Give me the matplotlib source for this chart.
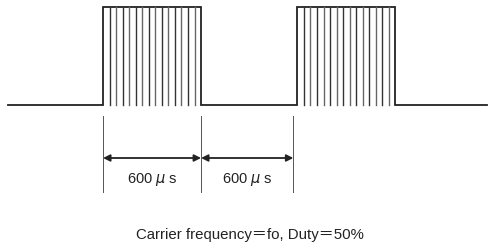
import matplotlib
matplotlib.use("Agg")
import matplotlib.pyplot as plt
import numpy as np

# Data (time in microseconds)
pulse_starts = [0, 1190]
pulse_width = 600
carrier_periods = 15
t_start, t_end = -580, 2350
dim_marks = [0, 600, 1165]
dim_labels = ["600 $\\mu$ s", "600 $\\mu$ s"]
caption = "Carrier frequency\uff1dfo, Duty\uff1d50%"

fig = plt.figure(figsize=(4.89, 2.47), dpi=100)
ax = fig.add_axes([0, 0, 1, 1])
ax.set_xlim(-631, 2363)
ax.set_ylim(247, 0)
ax.axis("off")

y_low, y_high = 105, 7
col = "#222222"

# signal outline
xs = [t_start]
ys = [y_low]
for s in pulse_starts:
    xs += [s, s, s + pulse_width, s + pulse_width]
    ys += [y_low, y_high, y_high, y_low]
xs.append(t_end)
ys.append(y_low)
ax.plot(xs, ys, color=col, lw=1.3, solid_joinstyle="miter")

# carrier lines
for s in pulse_starts:
    for k in range(1, carrier_periods):
        t = s + k * pulse_width / carrier_periods
        ax.plot([t, t], [y_high, y_low], color="#333333" if k % 2 else "#666666", lw=1.0)

# dimension lines
for m in dim_marks:
    ax.plot([m, m], [116, 192], color="#555555", lw=0.7)
for i in range(len(dim_marks) - 1):
    a, b = dim_marks[i], dim_marks[i + 1]
    ax.annotate("", xy=(b, 158), xytext=(a, 158),
                arrowprops=dict(arrowstyle="<|-|>", color="#222222", lw=1.3,
                                mutation_scale=10, shrinkA=0, shrinkB=0))
    ax.text((a + b) / 2, 179, dim_labels[i], ha="center", va="center",
            fontsize=10.5, family=["Liberation Sans", "DejaVu Sans"], color="#222222")

ax.text(250 / 489 * (2363 + 631) - 631, 235, caption, ha="center", va="center",
        fontsize=10.8, family=["Liberation Sans", "Noto Sans CJK JP", "DejaVu Sans"],
        color="#222222")

fig.savefig("out.png", dpi=100)
